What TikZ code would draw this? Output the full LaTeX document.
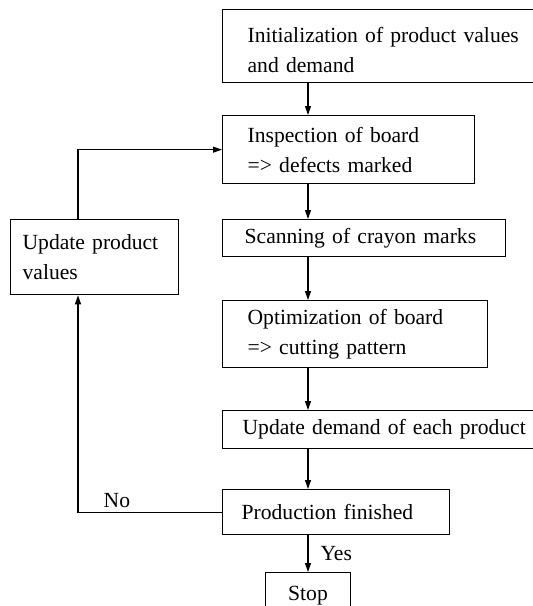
\documentclass[tikz,border=0pt]{standalone}
\usepackage{fontspec}
\setmainfont{Liberation Serif}
\usetikzlibrary{arrows.meta, positioning}

\begin{document}
\begin{tikzpicture}[
  x=1pt, y=-1pt,
  box/.style   = {draw, line width=1.3pt, anchor=north west, align=left,
                  inner ysep=0pt, font=\fontsize{21.6}{30}\selectfont},
  lbl/.style   = {font=\fontsize{21.6}{30}\selectfont, inner sep=4pt},
  arr/.style   = {-{Triangle[length=9pt, width=6pt]}, line width=1.1pt},
]
  \useasboundingbox (0,0) rectangle (533,606);
  \coordinate (spine) at (308,0);
  \coordinate (loopx) at (78,0);
  % main column
  \node[box, minimum width=330pt, minimum height=73pt, inner xsep=25pt,
        text width=280pt, text height=28pt, text depth=35pt]
        (init) at (222,9) {Initialization of product values\\and demand};
  \node[box, minimum width=252pt, minimum height=68pt, inner xsep=25pt,
        text width=202pt] (inspect) at (222,115) {Inspection of board\\=> defects marked};
  \node[box, minimum width=283pt, minimum height=37pt, inner xsep=22pt,
        text width=239pt] (scan) at (222,219) {Scanning of crayon marks};
  \node[box, minimum width=265pt, minimum height=67pt, inner xsep=25pt,
        text width=215pt] (optim) at (222,300) {Optimization of board\\=> cutting pattern};
  \node[box, minimum width=330pt, minimum height=38pt, inner xsep=20pt,
        text width=290pt] (demand) at (222,410) {Update demand of each product};
  \node[box, minimum width=227pt, minimum height=45pt, inner xsep=19pt,
        text width=189pt] (finished) at (222,489) {Production finished};
  \node[box, anchor=north, minimum width=85pt, minimum height=45pt]
        (stop) at (308,572) {Stop};
  % feedback loop
  \node[box, minimum width=168pt, minimum height=75pt, inner xsep=12pt,
        text width=144pt] (upd) at (10,219) {Update product\\values};
  \draw[arr] (init.south -| spine) -- (inspect.north -| spine);
  \draw[arr] (inspect.south -| spine) -- (scan.north -| spine);
  \draw[arr] (scan.south -| spine) -- (optim.north -| spine);
  \draw[arr] (optim.south -| spine) -- (demand.north -| spine);
  \draw[arr] (demand.south -| spine) -- (finished.north -| spine);
  \draw[arr] (finished.south -| spine) -- node[lbl, right=8pt] (yes) {Yes} (stop.north);
  \draw[arr] (finished.west) -- node[lbl, above, pos=0.73] (no) {No}
        (finished.west -| loopx) -- (upd.south -| loopx);
  \draw[arr] (upd.north -| loopx) |- (inspect.west);
\end{tikzpicture}
\end{document}
